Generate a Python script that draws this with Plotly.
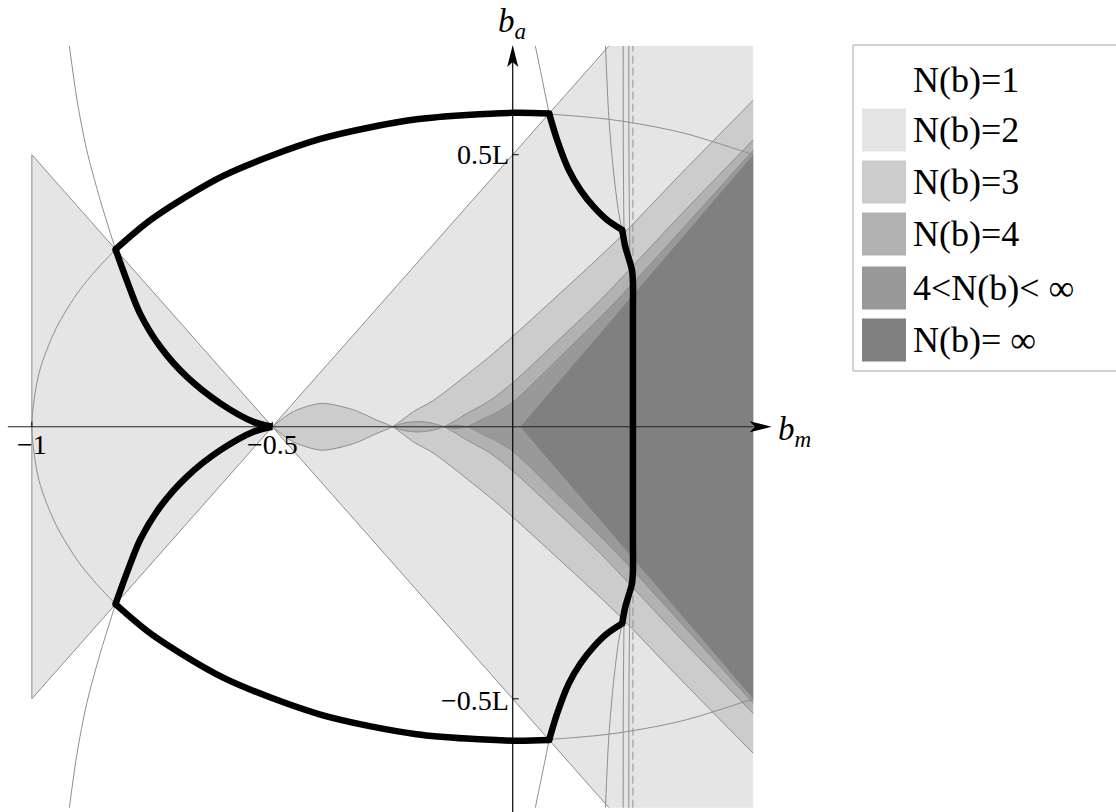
import plotly.graph_objects as go

# ---------------------------------------------------------------
# Regions of the (b_m, b_a) plane, coloured by N(b)
# ---------------------------------------------------------------
# N(b) >= 2 : wedge |b_a| < b_m + 0.5 (clipped to the box) and the left triangle
wedge_bm = [-0.5, 0.2, 0.5, 0.5, 0.2]
wedge_ba = [0.0, 0.7, 0.7, -0.7, -0.7]
tri_bm = [-1.0, -0.5, -1.0, -1.0]
tri_ba = [0.5, 0.0, -0.5, 0.5]

# Upper edge of N(b) >= 3 : lens under the axis, then the rising branch
n3_bm = [-0.5, -0.456, -0.397, -0.331, -0.282, -0.25, -0.206, -0.164, -0.109,
         -0.04, 0.0, 0.082, 0.217, 0.35, 0.5]
n3_ba = [0.0, -0.028, -0.043, -0.031, -0.012, 0.0, 0.028, 0.049, 0.086,
         0.135, 0.166, 0.232, 0.343, 0.465, 0.600]

# Upper edge of N(b) >= 4
n4_bm = [-0.25, -0.225, -0.197, -0.17, -0.1436, -0.12, -0.1, -0.046, 0.0,
         0.09, 0.1825, 0.35, 0.5]
n4_ba = [0.0, -0.007, -0.0095, -0.007, 0.0, 0.011, 0.022, 0.049, 0.081,
         0.155, 0.233, 0.39, 0.527]

# Upper edge of N(b) >= 5  (4 < N(b) < inf)
n5_bm = [-0.1436, -0.119, -0.095, -0.08, -0.06, -0.03, 0.0, 0.1, 0.217, 0.5]
n5_ba = [0.0, -0.003, 0.0, 0.006, 0.015, 0.028, 0.045, 0.13, 0.233, 0.508]

# N(b) = inf
inf_bm = [0.016, 0.5, 0.5]
inf_ba = [0.0, 0.5, -0.5]

# ---------------------------------------------------------------
# Thin guide curves (upper halves; the lower halves are mirrored)
# ---------------------------------------------------------------
ell_bm = [-1.0, -0.985, -0.95, -0.9, -0.83, -0.75, -0.6, -0.4, -0.2, 0.0,
          0.2, 0.35, 0.5]
ell_ba = [0.0, 0.099, 0.180, 0.252, 0.322, 0.382, 0.462, 0.529, 0.565, 0.577,
          0.565, 0.541, 0.500]

lsteep_bm = [-0.922, -0.906, -0.886, -0.858, -0.826]
lsteep_ba = [0.70, 0.60, 0.509, 0.417, 0.326]

rsteep_bm = [0.047, 0.0603, 0.0757]
rsteep_ba = [0.70, 0.643, 0.5757]

curveA_bm = [0.1929, 0.1998, 0.210, 0.2206, 0.2276]
curveA_ba = [0.70, 0.570, 0.466, 0.392, 0.3616]

lineB_bm = [0.2297, 0.2300, 0.2315]
lineB_ba = [0.70, 0.50, 0.355]

lineC_bm = [0.2414, 0.2420, 0.2440]
lineC_ba = [0.70, 0.45, 0.30]

dash_bm = [0.25, 0.25]
dash_ba = [-0.70, 0.70]

# ---------------------------------------------------------------
# Thick boundary of the N(b)=1 region (upper halves)
# ---------------------------------------------------------------
thick_top_bm = [-0.826, -0.75, -0.6, -0.4, -0.2, 0.0, 0.0757]
thick_top_ba = [0.326, 0.382, 0.462, 0.529, 0.565, 0.577, 0.5757]

thick_left_bm = [-0.826, -0.803, -0.775, -0.733, -0.678, -0.608, -0.539, -0.5]
thick_left_ba = [0.326, 0.270, 0.208, 0.147, 0.092, 0.043, 0.009, 0.0]

thick_right_bm = [0.0757, 0.0924, 0.1165, 0.1409, 0.1686, 0.1965, 0.2276]
thick_right_ba = [0.5757, 0.527, 0.472, 0.435, 0.404, 0.380, 0.3616]

thick_side_bm = [0.2276, 0.2341, 0.2424, 0.248, 0.25, 0.25]
thick_side_ba = [0.3616, 0.331, 0.3064, 0.288, 0.265, 0.2]

corner_bm = [-0.826, 0.0757, 0.2276]
corner_ba = [0.326, 0.5757, 0.3616]

# Legend
legend_labels = ["N(b)=1", "N(b)=2", "N(b)=3", "N(b)=4", "4&lt;N(b)&lt; ∞", "N(b)= ∞"]
legend_colors = [None, "#e5e5e5", "#cccccc", "#b2b2b2", "#999999", "#808080"]

# ---------------------------------------------------------------
FILL = {3: "#cccccc", 4: "#b2b2b2", 5: "#999999"}
EDGE = "#8e8e8e"
SERIF = "Liberation Serif"


def neg(vals):
    return [-v for v in vals]


fig = go.Figure()


def line(bm, ba, color=EDGE, width=1.0, dash=None, shape="spline"):
    fig.add_trace(go.Scatter(
        x=bm, y=ba, mode="lines", hoverinfo="skip", showlegend=False,
        line=dict(color=color, width=width, dash=dash, shape=shape, smoothing=0.8)))


def polygon(bm, ba, color):
    fig.add_trace(go.Scatter(
        x=bm, y=ba, mode="lines", fill="toself", fillcolor=color,
        line=dict(width=0), hoverinfo="skip", showlegend=False))


def band(bm, ba, color):
    fig.add_trace(go.Scatter(
        x=bm, y=neg(ba), mode="lines", hoverinfo="skip", showlegend=False,
        line=dict(width=0, shape="spline", smoothing=0.8)))
    fig.add_trace(go.Scatter(
        x=bm, y=ba, mode="lines", fill="tonexty", fillcolor=color,
        hoverinfo="skip", showlegend=False,
        line=dict(width=0, shape="spline", smoothing=0.8)))


# filled regions, lightest first
polygon(wedge_bm, wedge_ba, "#e5e5e5")
polygon(tri_bm, tri_ba, "#e5e5e5")
band(n3_bm, n3_ba, FILL[3])
band(n4_bm, n4_ba, FILL[4])
band(n5_bm, n5_ba, FILL[5])
polygon(inf_bm, inf_ba, "#808080")

# region edges
line([-0.5, 0.2], [0.0, 0.7], shape="linear")
line([-0.5, 0.2], [0.0, -0.7], shape="linear")
line(tri_bm, tri_ba, shape="linear")
for bm, ba in [(n3_bm, n3_ba), (n4_bm, n4_ba), (n5_bm, n5_ba)]:
    line(bm, ba)
    line(bm, neg(ba))

# guide curves
line(ell_bm[::-1] + ell_bm[1:], neg(ell_ba)[::-1] + ell_ba[1:])
for bm, ba in [(lsteep_bm, lsteep_ba), (rsteep_bm, rsteep_ba),
               (curveA_bm, curveA_ba), (lineB_bm, lineB_ba), (lineC_bm, lineC_ba)]:
    line(bm, ba)
    line(bm, neg(ba))
line(dash_bm, dash_ba, dash="8px,4px", shape="linear")

# axes
line([-1.05, 0.52], [0, 0], color="#222222", width=1.2, shape="linear")
line([0, 0], [-0.708, 0.68], color="#000000", width=1.2, shape="linear")

# thick boundary
TH = 6.5
for bm, ba in [(thick_top_bm, thick_top_ba), (thick_left_bm, thick_left_ba),
               (thick_right_bm, thick_right_ba)]:
    line(bm, ba, color="black", width=TH)
    line(bm, neg(ba), color="black", width=TH)
line(thick_side_bm + thick_side_bm[::-1], thick_side_ba + neg(thick_side_ba)[::-1],
     color="black", width=TH)
fig.add_trace(go.Scatter(
    x=corner_bm + corner_bm, y=corner_ba + neg(corner_ba), mode="markers",
    marker=dict(size=TH, color="black"), hoverinfo="skip", showlegend=False))

# ---------------------------------------------------------------
# Layout geometry
# ---------------------------------------------------------------
W, H = 1116, 812
ML, MR, MT, MB = 3, 334, 35, 0
PW, PH = W - ML - MR, H - MT - MB


def px(x):
    return (x - ML) / PW


def py(y):
    return (H - MB - y) / PH


shapes = []
# arrowheads
shapes.append(dict(type="path", xref="x", yref="y", xsizemode="pixel", ysizemode="pixel",
                   xanchor=0.5386, yanchor=0.0,
                   path="M 0 0 L -22 5.5 L -17 0 L -22 -5.5 Z",
                   fillcolor="black", line=dict(width=0)))
shapes.append(dict(type="path", xref="x", yref="y", xsizemode="pixel", ysizemode="pixel",
                   xanchor=0.0, yanchor=0.7017,
                   path="M 0 0 L -5.5 -22 L 0 -17 L 5.5 -22 Z",
                   fillcolor="black", line=dict(width=0)))
# ticks
for t in [-1.0, -0.5]:
    shapes.append(dict(type="line", xref="x", yref="y", ysizemode="pixel", yanchor=0.0,
                       x0=t, x1=t, y0=0, y1=5, line=dict(color="black", width=1)))
for t in [-0.5, 0.5]:
    shapes.append(dict(type="line", xref="x", yref="y", xsizemode="pixel", xanchor=0.0,
                       x0=0, x1=6, y0=t, y1=t, line=dict(color="black", width=1)))

# legend box and swatches
shapes.append(dict(type="rect", xref="paper", yref="paper",
                   x0=px(853), x1=px(1130), y0=py(371), y1=py(45),
                   line=dict(color="#a8a8a8", width=1), fillcolor="white", layer="below"))
row_y = [80, 130, 182, 234, 288, 340]
annotations = []
for label, color, yc in zip(legend_labels, legend_colors, row_y):
    if color is not None:
        shapes.append(dict(type="rect", xref="paper", yref="paper",
                           x0=px(862), x1=px(906), y0=py(yc + 21.5), y1=py(yc - 21.5),
                           line=dict(width=0), fillcolor=color))
    annotations.append(dict(xref="paper", yref="paper", x=px(911), y=py(yc), text=label,
                            showarrow=False, xanchor="left", yanchor="middle",
                            font=dict(family=SERIF, size=36, color="black")))

# tick labels and axis titles
tick_font = dict(family=SERIF, size=28, color="black")
title_font = dict(family=SERIF, size=33, color="black")
annotations += [
    dict(x=-1.0, y=-0.032, text="−1", showarrow=False, xanchor="center", yanchor="middle", font=tick_font),
    dict(x=-0.5, y=-0.032, text="−0.5", showarrow=False, xanchor="center", yanchor="middle", font=tick_font),
    dict(x=-0.004, y=0.5, text="0.5L", showarrow=False, xanchor="right", yanchor="middle", font=tick_font),
    dict(x=-0.004, y=-0.503, text="−0.5L", showarrow=False, xanchor="right", yanchor="middle", font=tick_font),
    dict(xref="paper", yref="paper", x=px(794.5), y=py(431), text="<i>b</i><sub><i>m</i></sub>",
         showarrow=False, xanchor="center", yanchor="middle", font=title_font),
    dict(xref="paper", yref="paper", x=px(512), y=py(24), text="<i>b</i><sub><i>a</i></sub>",
         showarrow=False, xanchor="center", yanchor="middle", font=title_font),
]

fig.update_layout(
    width=W, height=H, autosize=False,
    margin=dict(l=ML, r=MR, t=MT, b=MB, pad=0),
    paper_bgcolor="white", plot_bgcolor="white",
    showlegend=False,
    xaxis=dict(range=[-1.06, 0.56], visible=False, fixedrange=True),
    yaxis=dict(range=[-0.708, 0.72], visible=False, fixedrange=True),
    shapes=shapes, annotations=annotations,
)

fig.write_html("out.html")
